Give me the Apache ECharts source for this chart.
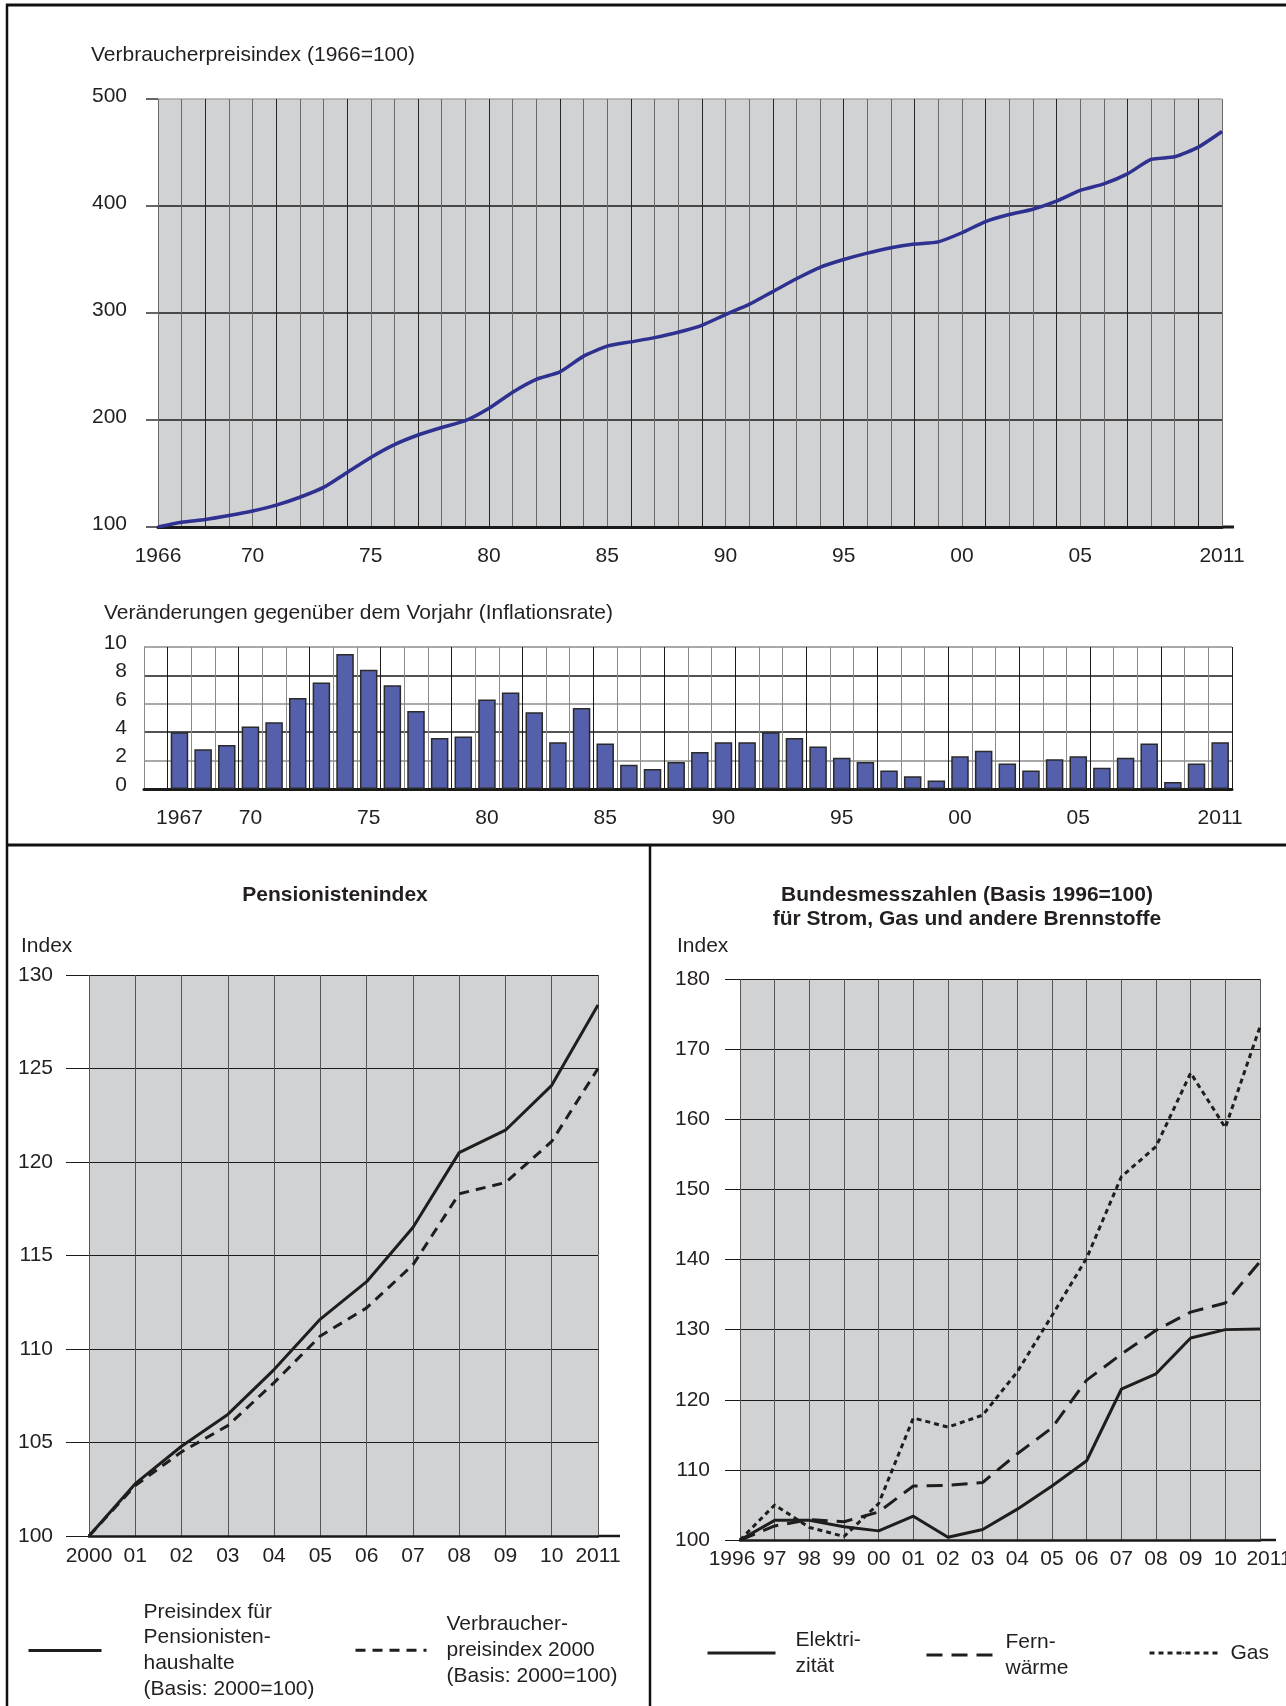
<!DOCTYPE html>
<html>
<head>
<meta charset="utf-8">
<script src="https://cdn.jsdelivr.net/npm/echarts@6/dist/echarts.min.js"></script>
<style>
html,body{margin:0;padding:0;background:#fff;}
#c{width:1286px;height:1706px;}
</style>
</head>
<body>
<div id="c"></div>
<script>
// ---------- DATA ----------
const cpiYears = [1966,1967,1968,1969,1970,1971,1972,1973,1974,1975,1976,1977,1978,1979,1980,1981,1982,1983,1984,1985,1986,1987,1988,1989,1990,1991,1992,1993,1994,1995,1996,1997,1998,1999,2000,2001,2002,2003,2004,2005,2006,2007,2008,2009,2010,2011];
const cpiValues = [100,104.4,107,110.7,115,120.4,127.8,137,151,165,177,186,193,199.4,211,226,238,245,259.7,269,273,277,282,288.5,298.5,308,320,332,342.7,350,356,361,364.4,366.5,375,385.5,392,397,404.6,414.6,420.7,430,443.5,446,455,469.6];
const inflationRates = [null,4.0,2.8,3.1,4.4,4.7,6.4,7.5,9.5,8.4,7.3,5.5,3.6,3.7,6.3,6.8,5.4,3.3,5.7,3.2,1.7,1.4,1.9,2.6,3.3,3.3,4.0,3.6,3.0,2.2,1.9,1.3,0.9,0.6,2.3,2.7,1.8,1.3,2.1,2.3,1.5,2.2,3.2,0.5,1.8,3.3];
const cpiTickLabels = {1966:'1966',1970:'70',1975:'75',1980:'80',1985:'85',1990:'90',1995:'95',2000:'00',2005:'05',2011:'2011'};
const rateTickLabels = {1967:'1967',1970:'70',1975:'75',1980:'80',1985:'85',1990:'90',1995:'95',2000:'00',2005:'05',2011:'2011'};

const pensYears = ['2000','01','02','03','04','05','06','07','08','09','10','2011'];
const pensionistenIndex = [100,102.8,104.8,106.5,108.9,111.6,113.6,116.5,120.5,121.7,124.1,128.4];
const vpi2000 = [100,102.7,104.5,105.9,108.2,110.7,112.2,114.5,118.3,118.9,121.1,125.0];

const energyYears = ['1996','97','98','99','00','01','02','03','04','05','06','07','08','09','10','2011'];
const elektrizitaet = [100,102.8,102.8,101.9,101.3,103.4,100.4,101.5,104.4,107.7,111.3,121.5,123.7,128.8,130.0,130.1];
const fernwaerme = [100,102.0,102.9,102.6,104.0,107.7,107.8,108.2,112.3,116.0,122.8,126.5,129.9,132.5,133.8,139.7];
const gas = [100,105.0,101.8,100.5,105.2,117.4,116.1,117.8,124.0,132.0,140.2,151.8,156.1,166.6,158.8,173.2];

// ---------- STYLE ----------
const FF = '"Liberation Sans", Arial, sans-serif';
const INK = '#231f20';
const FS = 21;

const chart = echarts.init(document.getElementById('c'), null, {renderer:'canvas'});

function txt(text, x, y, opts) {
  return {
    type:'text', silent:true,
    style:{text:text, x:x, y:y, fill:INK, font: (opts && opts.bold ? 'bold ' : '') + FS + 'px ' + FF,
      textAlign:(opts && opts.align) || 'left', textVerticalAlign:'middle'}
  };
}
function ln(x1,y1,x2,y2,w,c){
  return {type:'line', silent:true, shape:{x1:x1,y1:y1,x2:x2,y2:y2}, style:{stroke:c||'#111', lineWidth:w}};
}
const legendBase = {selectedMode:false, padding:0, itemHeight:2, lineStyle:{width:3}};
function lg(name, left, top, w, lines, pad, lh) {
  return Object.assign({}, legendBase, {
    data:[name], left:left, top:top, itemWidth:w,
    formatter:()=>lines,
    textStyle:{fontSize:FS, color:INK, lineHeight:lh, padding:[0,0,0,pad], fontFamily:FF}
  });
}
const gridBase = {show:true, borderWidth:0, outerBoundsMode:'none', containLabel:false};

const option = {
  animation:false,
  backgroundColor:'#ffffff',
  textStyle:{fontFamily:FF, color:INK},
  grid:[
    Object.assign({}, gridBase, {left:158, width:1064, top:99, height:428, backgroundColor:'#d1d2d4'}),
    Object.assign({}, gridBase, {left:144, width:1088, top:647, height:142, backgroundColor:'#ffffff'}),
    Object.assign({}, gridBase, {left:89, width:509, top:975, height:561, backgroundColor:'#d1d2d4'}),
    Object.assign({}, gridBase, {left:740, width:520, top:979, height:561, backgroundColor:'#d1d2d4'})
  ],
  xAxis:[
    {gridIndex:0, type:'category', data:cpiYears, boundaryGap:false,
      axisLine:{show:true, lineStyle:{color:'#1a1a1a', width:3}},
      axisTick:{show:false},
      axisLabel:{interval:(i,v)=>cpiTickLabels[v]!==undefined, formatter:v=>cpiTickLabels[v]||'', color:INK, fontSize:FS, margin:19},
      splitLine:{show:true, interval:0, lineStyle:{color:['#6a6a6a','#6a6a6a','#262626'], width:1}}},
    {gridIndex:1, type:'category', data:cpiYears, boundaryGap:true,
      axisLine:{show:true, lineStyle:{color:'#1a1a1a', width:3}},
      axisTick:{show:false},
      axisLabel:{interval:(i,v)=>rateTickLabels[v]!==undefined, formatter:v=>rateTickLabels[v]||'', color:INK, fontSize:FS, margin:19},
      splitLine:{show:true, interval:0, lineStyle:{color:['#8a8a8a','#1a1a1a','#8a8a8a'], width:1}}},
    {gridIndex:2, type:'category', data:pensYears, boundaryGap:false,
      axisLine:{show:true, lineStyle:{color:'#1a1a1a', width:2.5}},
      axisTick:{show:false},
      axisLabel:{interval:0, color:INK, fontSize:FS, margin:10},
      splitLine:{show:true, interval:0, lineStyle:{color:'#555', width:1}}},
    {gridIndex:3, type:'category', data:energyYears, boundaryGap:false,
      axisLine:{show:true, lineStyle:{color:'#1a1a1a', width:2.5}},
      axisTick:{show:false},
      axisLabel:{interval:0, color:INK, fontSize:FS, margin:9,
        formatter:(v,i)=> i===0 ? '{first|'+v+'}' : (i===energyYears.length-1 ? '{last|'+v+'}' : v),
        rich:{first:{fontSize:FS, color:INK, padding:[0,16,0,0]}, last:{fontSize:FS, color:INK, padding:[0,0,0,18]}}},
      splitLine:{show:true, interval:0, lineStyle:{color:'#555', width:1}}}
  ],
  yAxis:[
    {gridIndex:0, type:'value', min:100, max:500, interval:100,
      axisLine:{show:false},
      axisTick:{show:true, length:12, lineStyle:{color:'#333', width:1.5}},
      axisLabel:{color:INK, fontSize:FS, margin:31, verticalAlign:'bottom', lineHeight:5},
      splitLine:{show:true, lineStyle:{color:['#1a1a1a','#1a1a1a','#1a1a1a','#1a1a1a','#a8a8a8'], width:1.5}}},
    {gridIndex:1, type:'value', min:0, max:10, interval:2,
      axisLine:{show:false},
      axisTick:{show:false},
      axisLabel:{color:INK, fontSize:FS, margin:17, verticalAlign:'bottom', lineHeight:8},
      splitLine:{show:true, lineStyle:{color:['#1a1a1a','#8c8c8c'], width:1.5}}},
    {gridIndex:2, type:'value', min:100, max:130, interval:5,
      axisLine:{show:false},
      axisTick:{show:true, length:23, lineStyle:{color:'#1a1a1a', width:1}},
      axisLabel:{color:INK, fontSize:FS, margin:36},
      splitLine:{show:true, lineStyle:{color:'#1a1a1a', width:1}}},
    {gridIndex:3, type:'value', min:100, max:180, interval:10,
      axisLine:{show:false},
      axisTick:{show:true, length:15, lineStyle:{color:'#1a1a1a', width:1}},
      axisLabel:{color:INK, fontSize:FS, margin:30},
      splitLine:{show:true, lineStyle:{color:'#1a1a1a', width:1}}}
  ],
  legend:[
    lg('Pensionisten', 27, 1599, 73, 'Preisindex für\nPensionisten-\nhaushalte\n(Basis: 2000=100)', 37, 25.8),
    lg('VPI2000', 354, 1611.5, 71, 'Verbraucher-\npreisindex 2000\n(Basis: 2000=100)', 15, 25.8),
    lg('Elektrizität', 706, 1627, 68, 'Elektri-\nzität', 15, 26),
    lg('Fernwärme', 925, 1629, 73, 'Fern-\nwärme', 1, 26),
    lg('Gas', 1148, 1641, 68, 'Gas', 8, 24)
  ],
  series:[
    {name:'VPI1966', type:'line', xAxisIndex:0, yAxisIndex:0, data:cpiValues, symbol:'none', smooth:0.2,
      lineStyle:{color:'#2f3190', width:3.5}, z:5},
    {name:'Inflation', type:'bar', xAxisIndex:1, yAxisIndex:1, data:inflationRates, barWidth:'74%',
      itemStyle:{color:'#5460ab', borderColor:'#2a2a2a', borderWidth:1.5}, z:5},
    {name:'Pensionisten', type:'line', xAxisIndex:2, yAxisIndex:2, data:pensionistenIndex, symbol:'none',
      lineStyle:{color:'#1e1e1e', width:3, type:'solid'}, itemStyle:{color:'#1e1e1e'}, z:6},
    {name:'VPI2000', type:'line', xAxisIndex:2, yAxisIndex:2, data:vpi2000, symbol:'none',
      lineStyle:{color:'#1e1e1e', width:3, type:[10,7]}, itemStyle:{color:'#1e1e1e'}, z:5},
    {name:'Elektrizität', type:'line', xAxisIndex:3, yAxisIndex:3, data:elektrizitaet, symbol:'none',
      lineStyle:{color:'#1e1e1e', width:3, type:'solid'}, itemStyle:{color:'#1e1e1e'}, z:6},
    {name:'Fernwärme', type:'line', xAxisIndex:3, yAxisIndex:3, data:fernwaerme, symbol:'none',
      lineStyle:{color:'#1e1e1e', width:3, type:[16,9]}, itemStyle:{color:'#1e1e1e'}, z:5},
    {name:'Gas', type:'line', xAxisIndex:3, yAxisIndex:3, data:gas, symbol:'none',
      lineStyle:{color:'#1e1e1e', width:3, type:[5,4]}, itemStyle:{color:'#1e1e1e'}, z:5}
  ],
  graphic:[
    ln(6,5,1286,5,3),
    ln(7,4,7,1706,2.5),
    ln(7,845,1286,845,3),
    ln(650,845,650,1706,2.5),
    ln(1222,527,1234,527,3,'#1a1a1a'),
    ln(598,1536,620,1536,2.5,'#1a1a1a'),
    ln(1260,1540,1276,1540,2.5,'#1a1a1a'),
    txt('Verbraucherpreisindex (1966=100)', 91, 55),
    txt('Veränderungen gegenüber dem Vorjahr (Inflationsrate)', 104, 613),
    txt('Pensionistenindex', 335, 895, {bold:true, align:'center'}),
    txt('Index', 21, 946),
    txt('Bundesmesszahlen (Basis 1996=100)', 967, 895, {bold:true, align:'center'}),
    txt('für Strom, Gas und andere Brennstoffe', 967, 919, {bold:true, align:'center'}),
    txt('Index', 677, 946)
  ]
};
chart.setOption(option);
</script>
</body>
</html>
